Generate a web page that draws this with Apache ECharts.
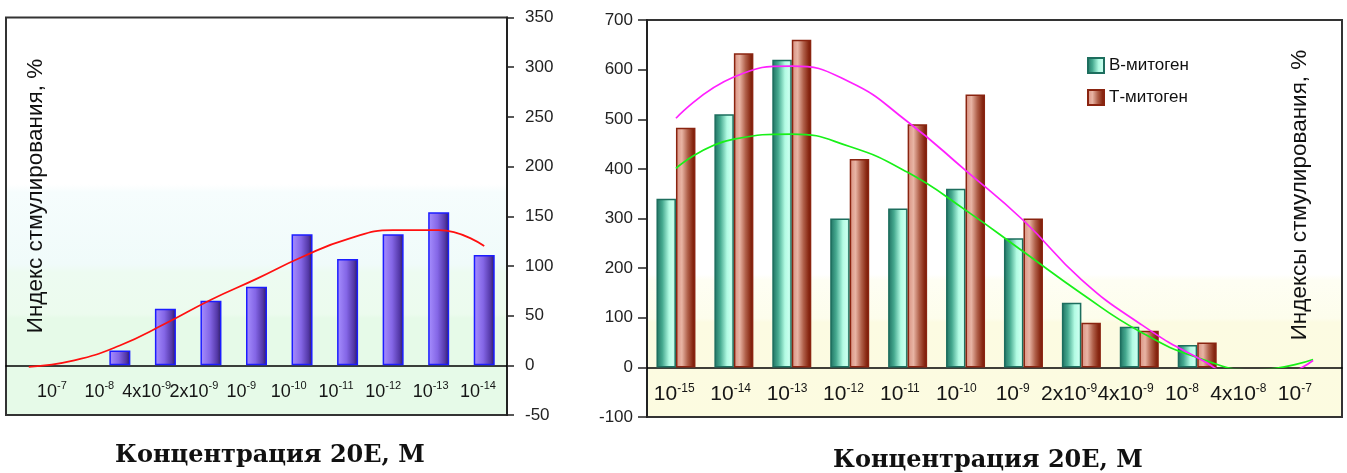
<!DOCTYPE html>
<html>
<head>
<meta charset="utf-8">
<script src="https://cdn.jsdelivr.net/npm/echarts@6/dist/echarts.min.js"></script>
<style>
html,body{margin:0;padding:0;background:#fff;}
#c{width:1347px;height:473px;}
</style>
</head>
<body>
<div id="c"></div>
<script>
// ---- data ----
const leftTickLabels = ['10^-7','10^-8','4x10^-9','2x10^-9','10^-9','10^-10','10^-11','10^-12','10^-13','10^-14'];
const leftValues = [0, 0, 15, 57, 65, 79, 132, 107, 132, 154, 111];
const leftTrend = [-1.5, 5, 20, 42, 66, 87, 109, 127, 136, 136, 120];

const rightTickLabels = ['10^-15','10^-14','10^-13','10^-12','10^-11','10^-10','10^-9','2x10^-9','4x10^-9','10^-8','4x10^-8','10^-7'];
const bValues = [340, 510, 620, 300, 320, 360, 260, 130, 82, 45, 0, 0];
const tValues = [483, 633, 660, 420, 490, 550, 300, 90, 74, 50, 0, 0];
const bTrend = [401, 460, 470, 445, 393, 317, 233, 149, 73, 20, -5, 16];
const tTrend = [502, 585, 607, 575, 495, 397, 296, 177, 89, 20, -30, 14];

const leftSlots = leftValues.map((_, i) => 'L' + i);
const rightSlots = bValues.map((_, i) => 'R' + i);
// a zero-height bar is not drawn (no outline at the axis)
const bars = arr => arr.map(v => (v === 0 ? '-' : v));

const SANS = "'Liberation Sans', Arial, sans-serif";

function supLabel(v) {
  const p = String(v).split('^');
  return p.length > 1 ? '{a|' + p[0] + '}{s|' + p[1] + '}' : '{a|' + v + '}';
}
function rich(big, small) {
  return {
    a: {fontSize: big, fontFamily: SANS, color: '#151515', lineHeight: 24},
    s: {fontSize: small, fontFamily: SANS, color: '#151515', lineHeight: 12, verticalAlign: 'top'}
  };
}

const chart = echarts.init(document.getElementById('c'), null, {renderer: 'canvas'});

const hiddenY = (min, max, gi) => ({gridIndex: gi, type: 'value', min: min, max: max, show: false});

const option = {
  animation: false,
  backgroundColor: '#ffffff',
  legend: {
    orient: 'vertical', left: 1087, top: 57, padding: 0,
    itemWidth: 16, itemHeight: 15, itemGap: 15,
    icon: 'rect',
    textStyle: {fontSize: 17, fontFamily: SANS, color: '#111'},
    data: ['В-митоген', 'Т-митоген']
  },
  grid: [
    {left: 6, top: 17.5, width: 501, height: 397.5, show: true, borderColor: '#333', borderWidth: 2,
     backgroundColor: {type: 'linear', x: 0, y: 0, x2: 0, y2: 1, colorStops: [
       {offset: 0, color: '#ffffff'}, {offset: 0.42, color: '#ffffff'},
       {offset: 0.44, color: '#f6fdfd'}, {offset: 0.62, color: '#f0fbfa'},
       {offset: 0.64, color: '#edfbf1'}, {offset: 0.745, color: '#ecfbee'},
       {offset: 0.755, color: '#e6fae8'}, {offset: 1, color: '#e6fae8'}]}},
    {left: 28.3, top: 17.5, width: 473.3, height: 347.8, show: false},
    {left: 647, top: 20, width: 695, height: 397, show: true, borderColor: '#333', borderWidth: 2,
     backgroundColor: {type: 'linear', x: 0, y: 0, x2: 0, y2: 1, colorStops: [
       {offset: 0, color: '#ffffff'}, {offset: 0.64, color: '#ffffff'},
       {offset: 0.655, color: '#fefef3'}, {offset: 0.75, color: '#fdfdec'},
       {offset: 0.76, color: '#fcfbe2'}, {offset: 1, color: '#fcfbe0'}]}},
    {left: 646, top: 20, width: 677, height: 347.4, show: false},
    {left: 647, top: 20, width: 695, height: 347.4, show: false}
  ],
  xAxis: [
    {gridIndex: 0, type: 'category', data: leftSlots,
     axisLine: {lineStyle: {color: '#000', width: 1.5}}, axisTick: {show: false}, axisLabel: {show: false}},
    {gridIndex: 1, type: 'category', data: leftTickLabels,
     axisLine: {show: false}, axisTick: {show: false},
     axisLabel: {interval: 0, margin: 15, formatter: supLabel, rich: rich(18, 11)}},
    {gridIndex: 2, type: 'category', data: rightSlots,
     axisLine: {lineStyle: {color: '#000', width: 1.5}}, axisTick: {show: false}, axisLabel: {show: false}},
    {gridIndex: 3, type: 'category', data: rightTickLabels,
     axisLine: {show: false}, axisTick: {show: false},
     axisLabel: {interval: 0, margin: 15, formatter: supLabel, rich: rich(21, 12)}},
    {gridIndex: 4, type: 'category', data: rightSlots, show: false}
  ],
  yAxis: [
    {gridIndex: 0, type: 'value', position: 'right', min: -50, max: 350, interval: 50,
     axisLine: {show: true, lineStyle: {color: '#222', width: 2}},
     axisTick: {show: true, length: 7, lineStyle: {color: '#222', width: 1.5}},
     axisLabel: {margin: 18, fontSize: 17, fontFamily: SANS, color: '#222'},
     splitLine: {show: false}},
    hiddenY(0, 1, 1),
    {gridIndex: 2, type: 'value', position: 'left', min: -100, max: 700, interval: 100,
     axisLine: {show: true, lineStyle: {color: '#222', width: 2}},
     axisTick: {show: true, length: 9, lineStyle: {color: '#222', width: 1.5}},
     axisLabel: {margin: 14, fontSize: 17, fontFamily: SANS, color: '#222'},
     splitLine: {show: false}},
    hiddenY(0, 1, 3),
    hiddenY(0, 700, 4)
  ],
  series: [
    {type: 'bar', xAxisIndex: 0, yAxisIndex: 0, data: bars(leftValues), barWidth: 21,
     itemStyle: {borderColor: '#1c1cff', borderWidth: 1.5,
       color: {type: 'linear', x: 0, y: 0, x2: 1, y2: 0, colorStops: [
         {offset: 0, color: '#a890ff'}, {offset: 0.45, color: '#8466e6'},
         {offset: 0.8, color: '#5438a8'}, {offset: 1, color: '#2c1c5a'}]}}},
    {type: 'line', xAxisIndex: 0, yAxisIndex: 0, data: leftTrend, smooth: true, symbol: 'none',
     lineStyle: {color: '#ff1010', width: 1.7}, z: 5},
    {name: 'В-митоген', type: 'bar', xAxisIndex: 2, yAxisIndex: 2, data: bars(bValues), barWidth: 19.5, barGap: '0%',
     itemStyle: {borderColor: '#1d6e5e', borderWidth: 1.5,
       color: {type: 'linear', x: 0, y: 0, x2: 1, y2: 0, colorStops: [
         {offset: 0, color: '#1e6f60'}, {offset: 0.3, color: '#45a98f'},
         {offset: 0.65, color: '#b2fbe3'}, {offset: 0.85, color: '#c8ffee'}, {offset: 1, color: '#9de8d0'}]}}},
    {name: 'Т-митоген', type: 'bar', xAxisIndex: 2, yAxisIndex: 2, data: bars(tValues), barWidth: 19.5, barGap: '0%',
     itemStyle: {borderColor: '#8a2410', borderWidth: 1.5,
       color: {type: 'linear', x: 0, y: 0, x2: 1, y2: 0, colorStops: [
         {offset: 0, color: '#d89080'}, {offset: 0.3, color: '#e8b4a4'},
         {offset: 0.6, color: '#b0604a'}, {offset: 0.85, color: '#8a2a14'}, {offset: 1, color: '#701808'}]}}},
    {type: 'line', xAxisIndex: 4, yAxisIndex: 4, data: bTrend, smooth: true, symbol: 'none',
     lineStyle: {color: '#18f018', width: 1.7}, z: 5},
    {type: 'line', xAxisIndex: 4, yAxisIndex: 4, data: tTrend, smooth: true, symbol: 'none',
     lineStyle: {color: '#ff20ff', width: 1.7}, z: 5}
  ],
  graphic: [
    {type: 'text', x: 36, y: 196, rotation: Math.PI / 2, z: 100,
     style: {text: 'Индекс стмулирования, %', fontSize: 22.5, fontFamily: SANS, fill: '#111', align: 'center', verticalAlign: 'middle'}},
    {type: 'text', x: 1300, y: 195, rotation: Math.PI / 2, z: 100,
     style: {text: 'Индексы стмулирования, %', fontSize: 22.5, fontFamily: SANS, fill: '#111', align: 'center', verticalAlign: 'middle'}},
    {type: 'text', x: 270, y: 456, z: 100,
     style: {text: 'Концентрация 20E, М', fontSize: 24, fontWeight: 'bold', fontFamily: "'DejaVu Serif', serif", fill: '#111', align: 'center', verticalAlign: 'middle'}},
    {type: 'text', x: 988, y: 461, z: 100,
     style: {text: 'Концентрация 20E, М', fontSize: 24, fontWeight: 'bold', fontFamily: "'DejaVu Serif', serif", fill: '#111', align: 'center', verticalAlign: 'middle'}}
  ]
};
chart.setOption(option);
</script>
</body>
</html>
